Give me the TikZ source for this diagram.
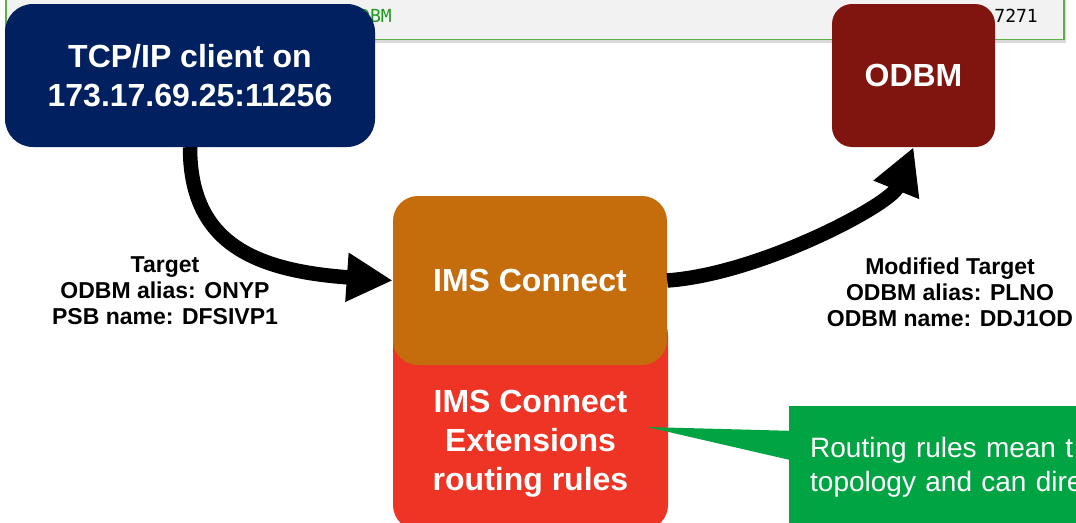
\documentclass[tikz,border=0pt]{standalone}
\usepackage{fontspec}
\setmainfont{Liberation Sans}
\newfontfamily\codefont{DejaVu Sans Mono}
\usetikzlibrary{arrows.meta,positioning,shapes.callouts,shadows}
\definecolor{clientblue}{HTML}{002060}
\definecolor{odbmred}{HTML}{80140E}
\definecolor{imsorange}{HTML}{C56C0D}
\definecolor{extred}{HTML}{EE3424}
\definecolor{notegreen}{HTML}{00A443}
\definecolor{codegreen}{HTML}{5DAE45}
\definecolor{codetext}{HTML}{1E9A1E}

\begin{document}
\begin{tikzpicture}[x=1pt,y=-1pt,
   box/.style={rounded corners=25pt, inner sep=0pt, text=white, align=center,
               font=\bfseries\fontsize{32}{39}\selectfont},
   boxtext/.style={text=white, align=center, inner sep=0pt,
               font=\bfseries\fontsize{32}{39}\selectfont},
   target/.style={align=center, inner sep=0pt,
               font=\bfseries\fontsize{23}{26}\selectfont},
   flow/.style={line width=14.5pt, -{Triangle[length=46pt,width=46pt]}},
   codebox/.style={fill=black!5, draw=codegreen, line width=1.5pt,
               drop shadow={shadow xshift=2pt, shadow yshift=-4pt, opacity=0.3}},
   note/.style={rectangle callout, fill=notegreen, text=white, align=left,
               text width=300pt, inner xsep=21pt, minimum height=122pt,
               font=\fontsize{28}{34}\selectfont, callout pointer width=29pt}]
   \useasboundingbox (0,0) rectangle (1076,522);

   % code listing behind the boxes
   \node[codebox, minimum width=1058pt, minimum height=70pt, anchor=south west] (code) at (5,40) {};
   \node[anchor=east, inner sep=0pt, text=codetext, font=\codefont\fontsize{18}{22}\selectfont] (codeodbm) at (392,16) {ODBM};
   \node[anchor=east, inner sep=0pt, font=\codefont\fontsize{18}{22}\selectfont] (codeport) at (1038,16) {7271};

   \node[box, rounded corners=28pt, fill=clientblue, minimum width=370pt, minimum height=143pt] (client) at (190,75.5) {TCP/IP client on\\173.17.69.25:11256};
   \node[box, rounded corners=20pt, fill=odbmred, minimum width=163pt, minimum height=143pt] (odbm) at (913.5,75.5) {ODBM};
   \node[box, fill=extred, minimum width=275pt, minimum height=220pt,
         label={[boxtext,yshift=-24pt]center:{IMS Connect\\Extensions\\routing rules}}] (ext) at (530.5,420) {};
   \node[box, fill=imsorange, minimum width=274pt, minimum height=169pt] (imsc) at (530,280.5) {IMS Connect};

    \path
    (client.south) edge[flow, out=-90, in=176, out distance=93pt, in distance=143pt] (imsc.west)
    (imsc.east) edge[flow, out=4, in=-112, out distance=93pt, in distance=62pt] (odbm.south);

   \node[target] (oldtarget) at (165,291) {Target\\ODBM alias: ONYP\\PSB name: DFSIVP1};
   \node[target] (newtarget) at (950,292) {Modified Target\\ODBM alias: PLNO\\ODBM name: DDJ1OD};

   \coordinate (ptr) at (647,427);
   \node[note, anchor=north west, callout absolute pointer={(ptr)}] (rules) at (789,406) {Routing rules mean t\\topology and can dire};
\end{tikzpicture}
\end{document}
